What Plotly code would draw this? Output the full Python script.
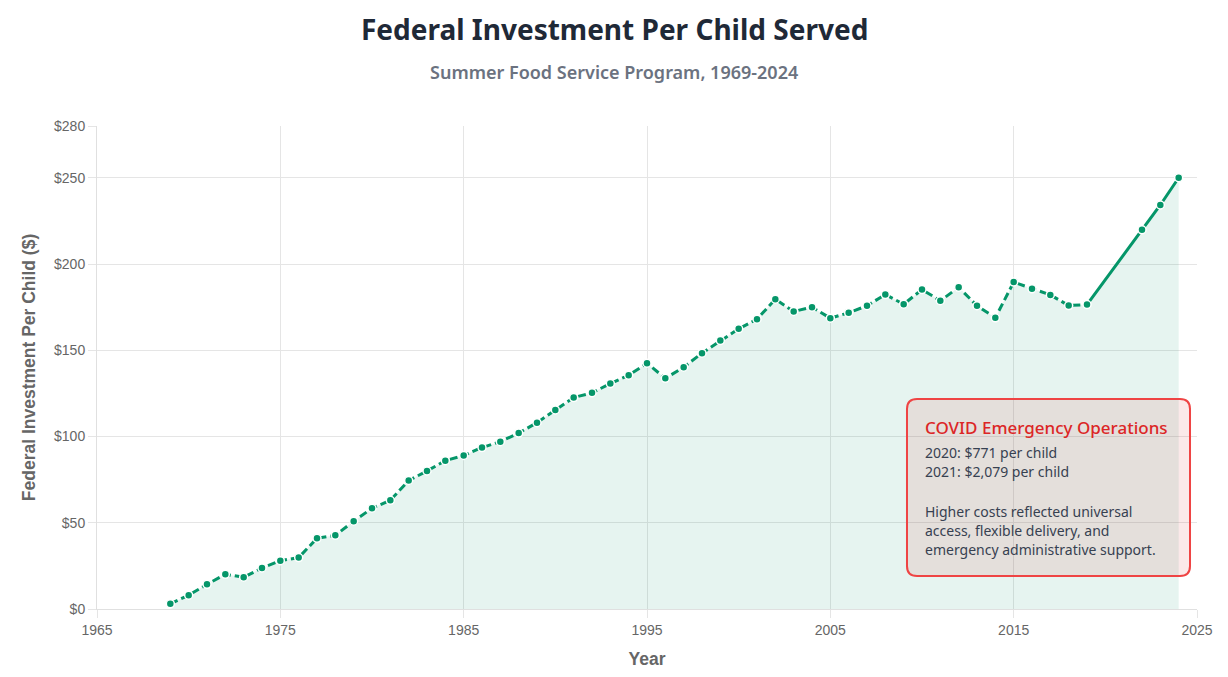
import plotly.graph_objects as go

years = list(range(1969, 2025))
values = [3, 8, 14.3, 20.1, 18.4, 23.8, 28, 29.8, 41, 42.7,
          50.9, 58.4, 63, 74.5, 80, 86, 89, 93.6, 97, 102,
          108, 115.4, 122.6, 125.3, 130.7, 135.5, 142.5, 133.7, 140.2, 148.3,
          155.6, 162.4, 168, 179.6, 172.5, 175, 168.6, 171.7, 175.8, 182.3,
          176.7, 185.2, 178.7, 186.5, 175.8, 168.8, 189.5, 185.6, 182.1, 175.9,
          176.5, None, None, 219.8, 234.2, 250]

y_tick_vals = [0, 50, 100, 150, 200, 250, 280]
y_tick_text = ["$0", "$50", "$100", "$150", "$200", "$250", "$280"]
x_tick_vals = [1965, 1975, 1985, 1995, 2005, 2015, 2025]

title_text = "Federal Investment Per Child Served"
subtitle_text = "Summer Food Service Program, 1969-2024"
note_title = "COVID Emergency Operations"
note_lines = ["2020: $771 per child", "2021: $2,079 per child", "",
              "Higher costs reflected universal", "access, flexible delivery, and",
              "emergency administrative support."]

GREEN = "#059669"
hist_x = [x for x, v in zip(years, values) if v is not None and x <= 2019]
hist_y = [v for x, v in zip(years, values) if v is not None and x <= 2019]
rec_x = [x for x, v in zip(years, values) if v is not None and x >= 2019]
rec_y = [v for x, v in zip(years, values) if v is not None and x >= 2019]
pts_x = [x for x, v in zip(years, values) if v is not None]
pts_y = [v for v in values if v is not None]

fig = go.Figure()
fig.add_trace(go.Scatter(x=pts_x, y=pts_y, mode="lines", fill="tozeroy",
                         fillcolor="rgba(5,150,105,0.1)", line=dict(width=0),
                         hoverinfo="skip", showlegend=False))
fig.add_trace(go.Scatter(x=hist_x, y=hist_y, mode="lines",
                         line=dict(color=GREEN, width=3, dash="8px,4px"),
                         showlegend=False))
fig.add_trace(go.Scatter(x=rec_x, y=rec_y, mode="lines",
                         line=dict(color=GREEN, width=3), showlegend=False))
fig.add_trace(go.Scatter(x=pts_x, y=pts_y, mode="markers",
                         marker=dict(color=GREEN, size=8, line=dict(color="white", width=1.5)),
                         showlegend=False))

# page offset (body margin) compensation
OFF = 8
FW, FH = 1228 - OFF, 677 - OFF
# plot area in page pixels
L, R, T, B = 97, 1197, 126, 609
W, H = R - L, B - T
def px(x): return (x - L) / W
def py(y): return (B - y) / H

# rounded rectangle for annotation box
x0, x1, y0, y1, r = 907, 1190, 399, 576, 10
def pt(x, y): return f"{px(x):.5f},{py(y):.5f}"
path = (f"M {pt(x0 + r, y0)} L {pt(x1 - r, y0)} Q {pt(x1, y0)} {pt(x1, y0 + r)} "
        f"L {pt(x1, y1 - r)} Q {pt(x1, y1)} {pt(x1 - r, y1)} "
        f"L {pt(x0 + r, y1)} Q {pt(x0, y1)} {pt(x0, y1 - r)} "
        f"L {pt(x0, y0 + r)} Q {pt(x0, y0)} {pt(x0 + r, y0)} Z")
fig.add_shape(type="path", path=path, xref="paper", yref="paper",
              fillcolor="rgba(220,38,38,0.1)", line=dict(color="#ef4444", width=2),
              layer="above")

fig.add_annotation(x=px(923), y=py(428), xref="paper", yref="paper", xanchor="left",
                   yanchor="middle", showarrow=False, text=note_title,
                   font=dict(family="Noto Sans", size=17, weight=500, color="#dc2626"))
line_y = [452, 471, 490, 511, 530, 549]
for t, yy in zip(note_lines, line_y):
    if t:
        fig.add_annotation(x=px(923), y=py(yy), xref="paper", yref="paper", xanchor="left",
                           yanchor="middle", showarrow=False, text=t,
                           font=dict(family="Noto Sans", size=14, color="#374151"))

fig.add_annotation(x=px(614), y=py(29), xref="paper", yref="paper", showarrow=False,
                   text=f"<b>{title_text}</b>", xanchor="center", yanchor="middle",
                   font=dict(family="Noto Sans", size=28, color="#1f2937"))
fig.add_annotation(x=px(614), y=py(72), xref="paper", yref="paper", showarrow=False,
                   text=subtitle_text, xanchor="center", yanchor="middle",
                   font=dict(family="Noto Sans", size=18, weight=600, color="#6b7280"))

fig.update_layout(
    width=FW, height=FH,
    margin=dict(l=L - OFF, r=FW - (R - OFF), t=T - OFF, b=FH - (B - OFF)),
    paper_bgcolor="white", plot_bgcolor="white",
    xaxis=dict(range=[1965, 2025], tickvals=x_tick_vals, showgrid=True,
               gridcolor="#e5e5e5", zeroline=False, showline=True, linecolor="#e0e0e0",
               ticks="outside", ticklen=8, tickcolor="#e5e5e5",
               tickfont=dict(family="Liberation Sans", size=14, color="#666"),
               title=dict(text="<b>Year</b>", standoff=15,
                          font=dict(family="Liberation Sans", size=17.5, color="#666"))),
    yaxis=dict(range=[0, 280], tickvals=y_tick_vals, ticktext=y_tick_text, showgrid=True,
               gridcolor="#e5e5e5", zeroline=False, showline=True, linecolor="#e0e0e0",
               ticks="outside", ticklen=8, tickcolor="#e5e5e5",
               tickfont=dict(family="Liberation Sans", size=14, color="#666"),
               title=dict(text="<b>Federal Investment Per Child ($)</b>", standoff=13,
                          font=dict(family="Liberation Sans", size=17.5, color="#666"))),
)

fig.write_html("out.html")
